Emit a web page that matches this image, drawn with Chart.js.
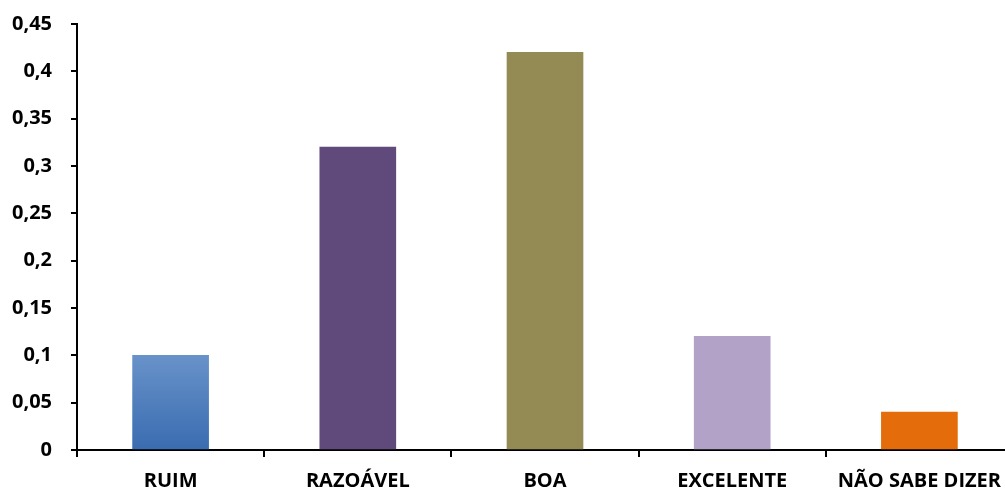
<!DOCTYPE html>
<html>
<head>
<meta charset="utf-8">
<script src="https://cdn.jsdelivr.net/npm/chart.js@4"></script>
<style>
  html, body { margin: 0; padding: 0; background: #fff; overflow: hidden; }
  #wrap { position: absolute; left: 0; top: -7px; width: 1013px; height: 496px; }
</style>
</head>
<body>
<div id="wrap"><canvas id="c"></canvas></div>
<script>
const categories = ['RUIM', 'RAZOÁVEL', 'BOA', 'EXCELENTE', 'NÃO SABE DIZER'];
const values = [0.10, 0.32, 0.42, 0.12, 0.04];
const yTicks = [0, 0.05, 0.1, 0.15, 0.2, 0.25, 0.3, 0.35, 0.4, 0.45];
const barColors = ['#4f81bd', '#604a7b', '#948a54', '#b3a2c7', '#e46c0a'];

function fmt(v) {
  return String(Math.round(v * 100) / 100).replace('.', ',');
}

const FONT = { family: "'Open Sans', sans-serif", weight: 'bold', size: 20 };

const ctx = document.getElementById('c');
new Chart(ctx, {
  type: 'bar',
  data: {
    labels: categories,
    datasets: [{
      data: values,
      backgroundColor: (c) => {
        const i = c.dataIndex;
        if (i === 0 && c.chart.chartArea) {
          const y = c.chart.scales.y;
          const top = y.getPixelForValue(values[0]);
          const g = c.chart.ctx.createLinearGradient(0, top, 0, y.getPixelForValue(0));
          g.addColorStop(0, '#6892c9');
          g.addColorStop(1, '#3a6cb0');
          return g;
        }
        return barColors[i];
      },
      borderWidth: 0,
      barThickness: 76
    }]
  },
  options: {
    responsive: true,
    maintainAspectRatio: false,
    animation: false,
    layout: { padding: { left: 0, right: 0, top: 7, bottom: 0 } },
    plugins: { legend: { display: false }, tooltip: { enabled: false } },
    scales: {
      x: {
        grid: { display: true, drawOnChartArea: false, offset: true, color: '#000', lineWidth: 2, tickLength: 7 },
        border: { display: true, color: '#000', width: 2 },
        ticks: { color: '#000', font: FONT, padding: 12, maxRotation: 0, autoSkip: false },
        afterFit: (s) => { s.height = 39; s.paddingLeft = 0; s.paddingRight = 0; }
      },
      y: {
        min: 0,
        max: 0.45,
        afterBuildTicks: (s) => { s.ticks = yTicks.map(v => ({ value: v })); },
        grid: { display: true, drawOnChartArea: false, color: '#000', lineWidth: 2, tickLength: 6 },
        border: { display: true, color: '#000', width: 2 },
        ticks: { color: '#000', font: FONT, padding: 19, callback: (v) => fmt(v) },
        afterFit: (s) => { s.width = 77; }
      }
    }
  }
});
</script>
</body>
</html>
